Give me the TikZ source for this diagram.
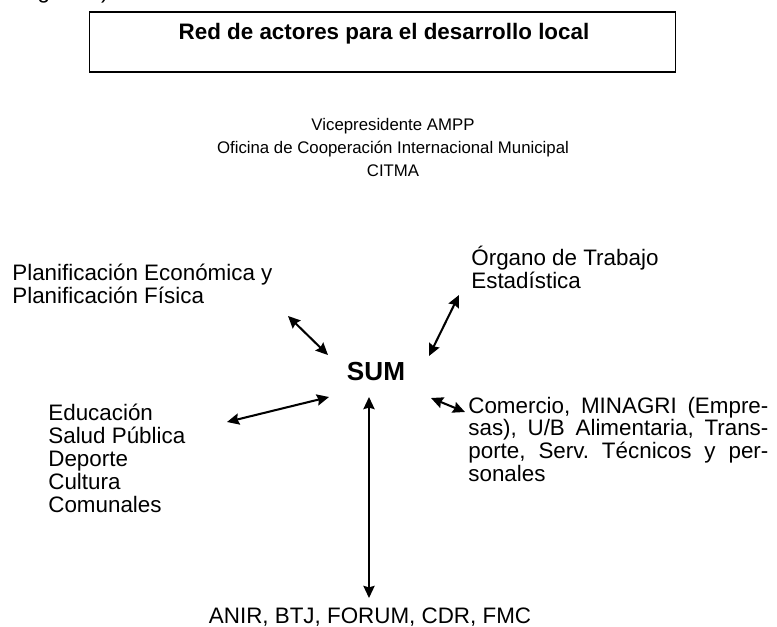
\documentclass[tikz,border=0pt]{standalone}
\usepackage{fontspec}
\setmainfont{Liberation Sans}
\usetikzlibrary{arrows.meta}
\frenchspacing
\begin{document}
\begin{tikzpicture}[x=0.536pt,y=-0.536pt,
        lbl/.style={inner sep=0pt,font=\fontsize{12}{12.3}\selectfont},
        link/.style={line width=1.1pt,{Stealth[length=6.5pt,width=6pt,inset=0.8pt]}-{Stealth[length=6.5pt,width=6pt,inset=0.8pt]}}]
            \useasboundingbox (0,0) rectangle (777,626);

            \node[lbl,anchor=base west] (frag) at (26,-1.5) {figura 1)};

            \node[draw,line width=0.8pt,minimum width=314pt,minimum height=32pt,inner sep=0pt] (titlebox) at (382.5,42) {};
            \node[lbl,anchor=base,font=\fontsize{12}{12.3}\selectfont\bfseries] (title) at (384,39) {Red de actores para el desarrollo local};

            \node[lbl,anchor=base,align=center,font=\fontsize{9}{12.3}\selectfont] (gob) at (393,176) {Vicepresidente AMPP\\Oficina de Cooperación Internacional Municipal\\CITMA};

            \node[lbl,anchor=base,font=\fontsize{14}{16}\selectfont\bfseries] (sum) at (376,380) {SUM};

            \node[lbl,anchor=base west,align=left] (plan) at (12,303) {Planificación Económica y\\Planificación Física};
            \node[lbl,anchor=base west,align=left] (organo) at (471,288) {Órgano de Trabajo\\Estadística};
            \node[lbl,anchor=base west,align=left] (edu) at (48,512) {Educación\\Salud Pública\\Deporte\\Cultura\\Comunales};
            \node[lbl,anchor=base west,text width=160.8pt,align=justify] (comercio) at (468,413) {Comercio, MINAGRI (Empre-\linebreak sas), U/B Alimentaria, Trans-\linebreak porte, Serv. Técnicos y per-\linebreak sonales};
            \node[lbl,anchor=base] (anir) at (370,623) {ANIR, BTJ, FORUM, CDR, FMC};

            \coordinate (plan-a) at (288,316);
            \coordinate (plan-b) at (328,355);
            \coordinate (organo-a) at (459,295);
            \coordinate (organo-b) at (429,356);
            \coordinate (edu-a) at (227,422);
            \coordinate (edu-b) at (329,397);
            \coordinate (comercio-a) at (431,398);
            \coordinate (comercio-b) at (465,412);
            \coordinate (anir-a) at (369,397);
            \coordinate (anir-b) at (369,598);

            \draw[link] (plan-a) -- (plan-b);
            \draw[link] (organo-a) -- (organo-b);
            \draw[link] (edu-a) -- (edu-b);
            \draw[link] (comercio-a) -- (comercio-b);
            \draw[link] (anir-a) -- (anir-b);
        \end{tikzpicture}
\end{document}
